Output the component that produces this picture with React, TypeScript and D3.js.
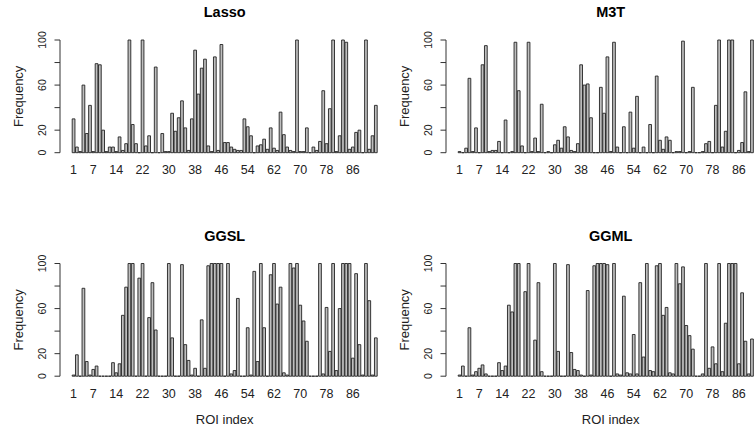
import React from 'react';
import * as d3 from 'd3';

// selection frequency per ROI
const lasso = [30, 5, 1, 60, 17, 42, 1, 79, 78, 20, 1, 5, 5, 1, 14, 2, 8, 100, 25, 8, 0, 100, 6, 15, 0, 76, 0, 17, 1, 1,
  35, 19, 31, 46, 22, 2, 30, 91, 52, 75, 83, 6, 1, 85, 2, 96, 9, 9, 5, 3, 2, 2, 30, 23, 15, 0, 6, 7, 12, 3,
  22, 4, 2, 36, 16, 5, 2, 1, 100, 1, 1, 22, 0, 5, 2, 10, 55, 8, 39, 100, 1, 15, 100, 98, 3, 5, 18, 20, 0, 100,
  3, 15, 42];
const m3t = [1, 0, 4, 66, 1, 22, 0, 78, 95, 1, 2, 2, 10, 0, 29, 0, 1, 98, 55, 6, 0, 98, 1, 13, 1, 43, 0, 1, 0, 7,
  11, 4, 23, 14, 2, 1, 8, 78, 60, 61, 31, 0, 0, 58, 35, 85, 1, 98, 5, 0, 23, 0, 36, 4, 50, 0, 5, 0, 25, 0,
  68, 11, 3, 14, 11, 0, 1, 1, 99, 0, 1, 58, 0, 0, 1, 8, 10, 0, 42, 100, 5, 19, 100, 100, 0, 2, 9, 54, 1, 100];
const ggsl = [1, 19, 0, 78, 13, 1, 6, 9, 0, 0, 0, 0, 12, 3, 11, 54, 79, 100, 100, 0, 87, 100, 0, 52, 83, 41, 0, 0, 0, 100,
  34, 0, 0, 99, 28, 14, 1, 7, 0, 50, 7, 98, 100, 100, 100, 100, 0, 100, 2, 5, 69, 0, 0, 43, 1, 93, 13, 100, 43, 0,
  90, 100, 64, 79, 3, 1, 100, 96, 100, 63, 49, 31, 0, 0, 0, 100, 2, 61, 22, 100, 5, 60, 100, 100, 100, 16, 91, 28, 1, 100,
  67, 1, 34];
const ggml = [1, 9, 0, 43, 1, 4, 7, 10, 2, 0, 0, 0, 12, 5, 9, 63, 57, 100, 100, 0, 75, 100, 0, 32, 83, 4, 0, 0, 0, 100,
  22, 0, 0, 99, 21, 6, 5, 1, 0, 76, 1, 98, 100, 100, 100, 99, 0, 100, 2, 1, 71, 3, 2, 37, 2, 83, 17, 100, 5, 4,
  98, 100, 54, 61, 3, 2, 100, 82, 97, 45, 36, 24, 0, 0, 2, 100, 7, 26, 11, 100, 4, 47, 100, 100, 100, 11, 74, 31, 2, 33];

const nRoi = 93;
const roiLabels = [1, 7, 14, 22, 30, 38, 46, 54, 62, 70, 78, 86];
const yTicks = [0, 20, 40, 60, 80, 100];
const yLabels = [0, 20, 60, 100];

const font = 'Liberation Sans, Arial, Helvetica, sans-serif';

// barplot geometry like R: width 1, space 0.2, 4% padding on x
const space = 0.2;
const wl = space;
const wr = (1 + space) * nRoi;
const pad = 0.04 * (wr - wl);

function Panel({ title, values, ox, oy, xlab }) {
  const x = d3.scaleLinear().domain([wl - pad, wr + pad]).range([ox, ox + 329.4]);
  const y = d3.scaleLinear().domain([0, 100]).range([oy + 112.7, oy]);
  const left = (i) => x(space + (1 + space) * i);
  const right = (i) => x((1 + space) * (i + 1));
  const mid = (i) => (left(i) + right(i)) / 2;
  const midY = (y(0) + y(100)) / 2;
  const midX = (x(wl - pad) + x(wr + pad)) / 2;
  return (
    <g>
      <text x={midX} y={oy - 23} textAnchor="middle" fontFamily={font} fontWeight="bold" fontSize={14.5}>
        {title}
      </text>
      {values.map((v, i) => (
        <path
          key={i}
          d={`M${left(i)},${y(0)}V${y(v)}H${right(i)}V${y(0)}Z`}
          fill="#bebebe"
          stroke="#222"
          strokeWidth={0.9}
        />
      ))}
      <line x1={ox} x2={ox} y1={y(0)} y2={y(100)} stroke="#333" />
      {yTicks.map((t) => (
        <line key={t} x1={ox - 5.5} x2={ox} y1={y(t)} y2={y(t)} stroke="#333" />
      ))}
      {yLabels.map((t) => (
        <text
          key={t}
          transform={`translate(${ox - 17.3},${y(t)}) rotate(-90)`}
          textAnchor="middle"
          dy="0.35em"
          fontFamily={font}
          fontSize={10.5}
          fill="#222"
        >
          {t}
        </text>
      ))}
      <text
        transform={`translate(${ox - 42},${midY}) rotate(-90)`}
        textAnchor="middle"
        dy="0.35em"
        fontFamily={font}
        fontSize={13}
        fill="#222"
      >
        Frequency
      </text>
      {roiLabels.map((r) => (
        <text key={r} x={mid(r - 1)} y={y(0) + 21.5} textAnchor="middle" fontFamily={font} fontSize={12.5} fill="#222">
          {r}
        </text>
      ))}
      {xlab && (
        <text x={midX} y={y(0) + 48} textAnchor="middle" fontFamily={font} fontSize={13} fill="#222">
          ROI index
        </text>
      )}
    </g>
  );
}

export default function App() {
  return (
    <svg width={755} height={431} style={{ position: 'absolute', left: 0, top: 0, background: '#fff' }}>
      <Panel title="Lasso" values={lasso} ox={60} oy={40} xlab={false} />
      <Panel title="M3T" values={m3t} ox={446} oy={40} xlab={false} />
      <Panel title="GGSL" values={ggsl} ox={60} oy={263.5} xlab={true} />
      <Panel title="GGML" values={ggml} ox={446} oy={263.5} xlab={true} />
    </svg>
  );
}
